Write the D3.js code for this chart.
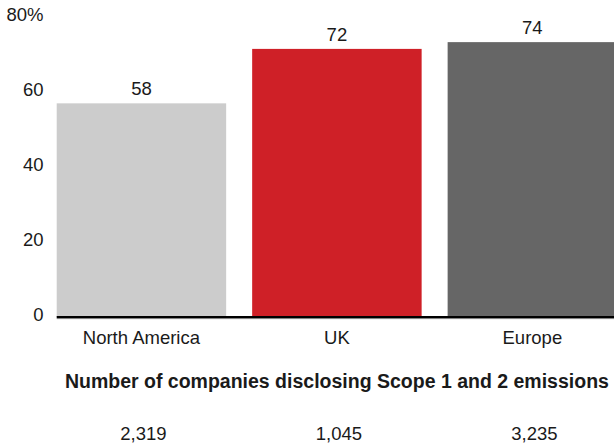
<!DOCTYPE html>
<html>
<head>
<meta charset="utf-8">
<script src="https://cdn.jsdelivr.net/npm/d3@7"></script>
<style>
  html, body { margin: 0; padding: 0; background: #fff; }
  svg { display: block; }
  text { font-family: "Liberation Sans", Arial, sans-serif; fill: #1a1a1a; }
</style>
</head>
<body>
<svg id="chart" width="614" height="448"></svg>
<script>
// ---- data ----
const categories = ["North America", "UK", "Europe"];
const barValues = [56.9, 71.4, 73.2];          // bar heights as drawn (%)
const valueLabels = ["58", "72", "74"];        // labels printed above bars
const companyCounts = ["2,319", "1,045", "3,235"];
const yTicks = [0, 20, 40, 60, 80];
const yTickLabels = ["0", "20", "40", "60", "80%"];
const colors = ["#cccccc", "#cf2027", "#666666"];
const subTitle = "Number of companies disclosing Scope 1 and 2 emissions";

// ---- layout ----
const W = 614, H = 448;
const svg = d3.select("#chart");
const fs = 18.5;

const x = d3.scaleBand()
  .domain(categories)
  .range([56.7, 617.1])
  .paddingInner(0.133)
  .paddingOuter(0);

const y = d3.scaleLinear().domain([0, 80]).range([317, 16.6]);

// bars
svg.append("g").selectAll("rect")
  .data(categories)
  .join("rect")
  .attr("x", d => x(d))
  .attr("width", x.bandwidth())
  .attr("y", (d, i) => y(barValues[i]))
  .attr("height", (d, i) => y(0) - y(barValues[i]))
  .attr("fill", (d, i) => colors[i]);

// value labels
svg.append("g").selectAll("text")
  .data(categories)
  .join("text")
  .attr("x", d => x(d) + x.bandwidth() / 2)
  .attr("y", (d, i) => y(barValues[i]) - 8)
  .attr("text-anchor", "middle")
  .attr("font-size", fs)
  .text((d, i) => valueLabels[i]);

// y axis (labels only)
const yAxis = d3.axisLeft(y)
  .tickValues(yTicks)
  .tickSize(0)
  .tickPadding(0)
  .tickFormat((d, i) => yTickLabels[i]);
const ya = svg.append("g")
  .attr("transform", "translate(43.5,-2)")
  .call(yAxis);
ya.select(".domain").remove();
ya.selectAll("text")
  .attr("font-size", fs)
  .attr("font-family", "Liberation Sans, Arial, sans-serif")
  .attr("fill", "#1a1a1a");

// x axis baseline
const xa = svg.append("g");
xa.append("line")
  .attr("x1", x.range()[0]).attr("x2", W)
  .attr("y1", y(0)).attr("y2", y(0))
  .attr("stroke", "#000").attr("stroke-width", 2);
xa.append("line")
  .attr("x1", x.range()[0]).attr("x2", W)
  .attr("y1", y(0) + 1.6).attr("y2", y(0) + 1.6)
  .attr("stroke", "#777").attr("stroke-width", 1);

// category labels
svg.append("g").selectAll("text")
  .data(categories)
  .join("text")
  .attr("x", d => x(d) + x.bandwidth() / 2)
  .attr("y", 344.3)
  .attr("text-anchor", "middle")
  .attr("font-size", fs)
  .text(d => d);

// subtitle
svg.append("text")
  .attr("x", x(categories[1]) + x.bandwidth() / 2)
  .attr("y", 388.3)
  .attr("text-anchor", "middle")
  .attr("font-size", 19.5)
  .attr("font-weight", "bold")
  .text(subTitle);

// company counts
svg.append("g").selectAll("text")
  .data(categories)
  .join("text")
  .attr("x", d => x(d) + x.bandwidth() / 2 + 2)
  .attr("y", 440)
  .attr("text-anchor", "middle")
  .attr("font-size", fs)
  .text((d, i) => companyCounts[i]);
</script>
</body>
</html>
